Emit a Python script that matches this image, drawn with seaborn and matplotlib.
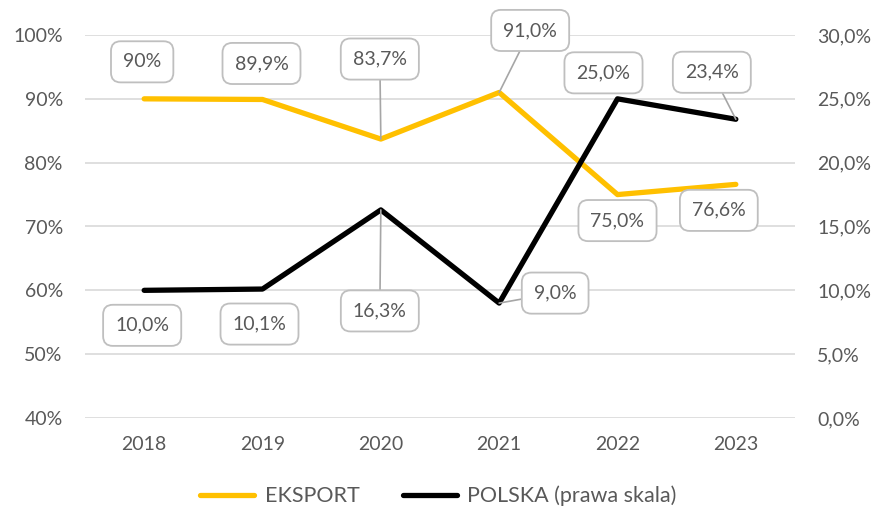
import matplotlib
matplotlib.use("Agg")
import matplotlib.pyplot as plt
import seaborn as sns
import pandas as pd
from matplotlib.ticker import FuncFormatter

# DATA ----------------------
years = ["2018", "2019", "2020", "2021", "2022", "2023"]
eksport = [90.0, 89.9, 83.7, 91.0, 75.0, 76.6]
polska = [10.0, 10.1, 16.3, 9.0, 25.0, 23.4]
eksport_labels = ["90%", "89,9%", "83,7%", "91,0%", "75,0%", "76,6%"]
polska_labels = ["10,0%", "10,1%", "16,3%", "9,0%", "25,0%", "23,4%"]

# label offsets (pixels) and leader-line flags
eksport_off = [(-2, 37), (-1, 36), (-1, 80), (31, 62), (0, -26), (-17, -26)]
eksport_lead = [False, False, True, True, False, False]
polska_off = [(-2, -35), (-3, -35), (-1, -101), (56, 10), (-14, 26), (-24, 47)]
polska_lead = [False, False, True, True, False, True]

df = pd.DataFrame({"rok": years, "EKSPORT": eksport, "POLSKA": polska})

# STYLE ----------------------
sns.set_style("white")
plt.rcParams["font.family"] = ["Lato", "DejaVu Sans"]
txt = "#595959"
yellow = "#FFC000"
grid = "#D9D9D9"
fs = 14

fig = plt.figure(figsize=(8.77, 5.13), dpi=100)
ax = fig.add_axes([85 / 877, 1 - 418 / 513, 710 / 877, 383 / 513])
ax2 = ax.twinx()

sns.lineplot(data=df, x="rok", y="EKSPORT", ax=ax, color=yellow, lw=3.8,
             solid_capstyle="round", legend=False)
sns.lineplot(data=df, x="rok", y="POLSKA", ax=ax2, color="black", lw=3.8,
             solid_capstyle="round", legend=False)

ax.set_xlim(-0.5, 5.5)
ax.set_ylim(40, 100)
ax2.set_ylim(0, 30)
ax.set_yticks(range(40, 101, 10))
ax2.set_yticks(range(0, 31, 5))
ax.yaxis.set_major_formatter(FuncFormatter(lambda v, p: f"{v:.0f}%"))
ax2.yaxis.set_major_formatter(FuncFormatter(lambda v, p: f"{v:.1f}%".replace(".", ",")))

ax.grid(axis="y", color=grid, lw=1.2)
ax.set_axisbelow(True)
for a in (ax, ax2):
    for s in a.spines.values():
        s.set_visible(False)
    a.set_xlabel("")
    a.set_ylabel("")
    a.tick_params(length=0, colors=txt, labelsize=fs)
ax.tick_params(axis="y", pad=16)
ax2.tick_params(axis="y", pad=16)
ax.tick_params(axis="x", pad=13)

box = dict(boxstyle="round,pad=0.62,rounding_size=0.5", fc="white", ec="#BFBFBF", lw=1.3)


def put_labels(a, vals, labels, offs, leads):
    for i, (v, lab, off, lead) in enumerate(zip(vals, labels, offs, leads)):
        kw = {}
        if lead:
            kw["arrowprops"] = dict(arrowstyle="-", color="#A6A6A6", lw=1.2,
                                    shrinkA=0, shrinkB=0)
        a.annotate(lab, xy=(i, v), xytext=off, textcoords="offset pixels",
                   ha="center", va="center", fontsize=fs, color=txt,
                   bbox=box, zorder=5, **kw)


put_labels(ax, eksport, eksport_labels, eksport_off, eksport_lead)
put_labels(ax2, polska, polska_labels, polska_off, polska_lead)

handles = [plt.Line2D([], [], color=yellow, lw=3.8, solid_capstyle="round"),
           plt.Line2D([], [], color="black", lw=3.8, solid_capstyle="round")]
leg = fig.legend(handles, ["EKSPORT", "POLSKA (prawa skala)"], loc="lower center",
                 bbox_to_anchor=(0.5, -0.025), ncol=2, frameon=False, fontsize=15.5,
                 handlelength=2.5, columnspacing=2.0, handletextpad=0.5)
for t in leg.get_texts():
    t.set_color(txt)

fig.savefig("out.png", dpi=100)
